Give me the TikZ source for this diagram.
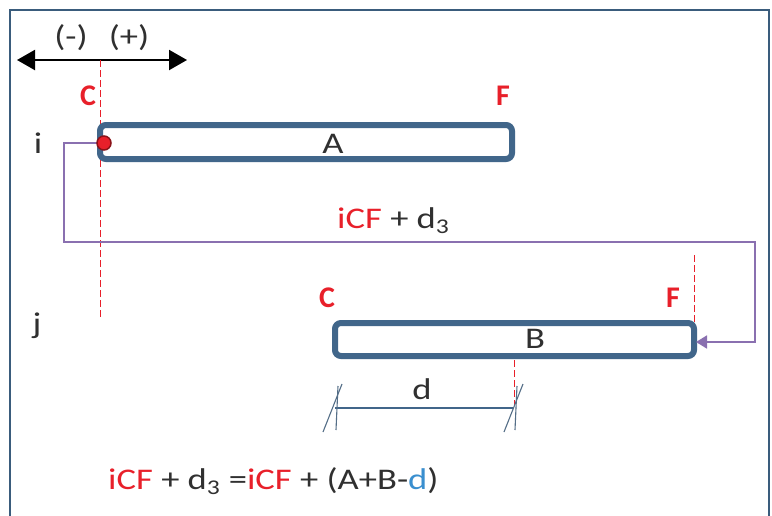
\documentclass[tikz,border=0pt]{standalone}
\usepackage{fontspec}
\setmainfont{Carlito}
\usetikzlibrary{arrows.meta}
\definecolor{bar}{HTML}{41668A}
\definecolor{rd}{HTML}{E8202A}
\definecolor{pur}{HTML}{8A70B0}
\definecolor{txt}{HTML}{303030}
\definecolor{dblue}{HTML}{3A8FCF}
\tikzset{
  lbl/.style={font=\fontsize{30}{32}\selectfont, text=txt, inner sep=0pt, xscale=1.22},
  cf/.style={font=\fontsize{30}{32}\selectfont\bfseries, text=rd, inner sep=0pt},
  barbox/.style={draw=bar, line width=6pt, rounded corners=6pt, fill=white},
  reddash/.style={draw=rd, line width=0.9pt, dash pattern=on 7pt off 3pt},
  link/.style={draw=pur, line width=1.8pt},
}
\begin{document}
\begin{tikzpicture}[x=1pt,y=-1pt]
\useasboundingbox (0,0) rectangle (772,515);
\fill[white] (0,0) rectangle (772,515);
\begin{scope}
\clip (0,0) rectangle (772,515);
\draw[draw=bar!90!black, line width=1.5pt] (10,530) -- (10,10) -- (769,10) -- (769,530);
\end{scope}
% direction arrow
\coordinate (al) at (17,60);
\coordinate (ar) at (187,60);
\draw[line width=2.2pt, {Triangle[length=18pt,width=20pt]}-{Triangle[length=18pt,width=20pt]}] (al) -- (ar);
\node[lbl] (minus) at (71,38) {(-)};
\node[lbl] (plus) at (129,38) {(+)};
% red dashed reference lines
\coordinate (r1t) at (100,60);
\coordinate (r1b) at (100,318);
\draw[reddash] (r1t) -- (r1b);
\coordinate (r2t) at (694,255);
\coordinate (r2b) at (694,322);
\draw[reddash] (r2t) -- (r2b);
\coordinate (r3t) at (514,360);
\coordinate (r3b) at (514,405);
\draw[reddash] (r3t) -- (r3b);
% labels
\node[cf] (C1) at (88,96) {C};
\node[cf] (F1) at (503,96) {F};
\node[cf] (C2) at (327,298) {C};
\node[cf] (F2) at (673,298) {F};
\node[lbl] (ii) at (38,143) {i};
\node[lbl] (jj) at (37,326) {j};
% bars
\draw[barbox] (100,125) rectangle (512,159);
\node[lbl] (A) at (333,144) {A};
\draw[barbox] (335,323) rectangle (694,356);
\node[lbl] (B) at (535,339) {B};
% link
\coordinate (dot) at (104,143);
\coordinate (p1) at (64,143);
\coordinate (p2) at (64,242);
\coordinate (p3) at (755,242);
\coordinate (p4) at (755,342);
\coordinate (Bend) at (696,342);
\draw[link, -{Triangle[length=11pt,width=13pt]}] (dot) -- (p1) -- (p2) -- (p3) -- (p4) -- (Bend);
\fill[rd, draw=rd!60!black, line width=1.5pt] (dot) circle (7pt);
\node[lbl, anchor=base west] (lab) at (337,228) {\textcolor{rd}{iCF} + d\textsubscript{3}};
% dimension d
\coordinate (d1) at (335,408);
\coordinate (d2) at (514,408);
\draw[draw=bar, line width=1.1pt] (d1) -- (d2);
\draw[draw=bar!70!gray, line width=1.1pt] (323,432) -- (342,384);
\draw[draw=bar!70!gray, line width=1.1pt] (504,432) -- (523,384);
\draw[draw=bar!70!gray, line width=1.1pt] (338,386) -- (336,430);
\draw[draw=bar!70!gray, line width=1.1pt] (517,386) -- (515,430);
\node[lbl] (dd) at (422,389) {d};
% formula
\node[lbl, anchor=base west] (form) at (108,489) {\textcolor{rd}{iCF} + d\textsubscript{3} =\textcolor{rd}{iCF} + (A+B-\textcolor{dblue}{d})};
\end{tikzpicture}
\end{document}
